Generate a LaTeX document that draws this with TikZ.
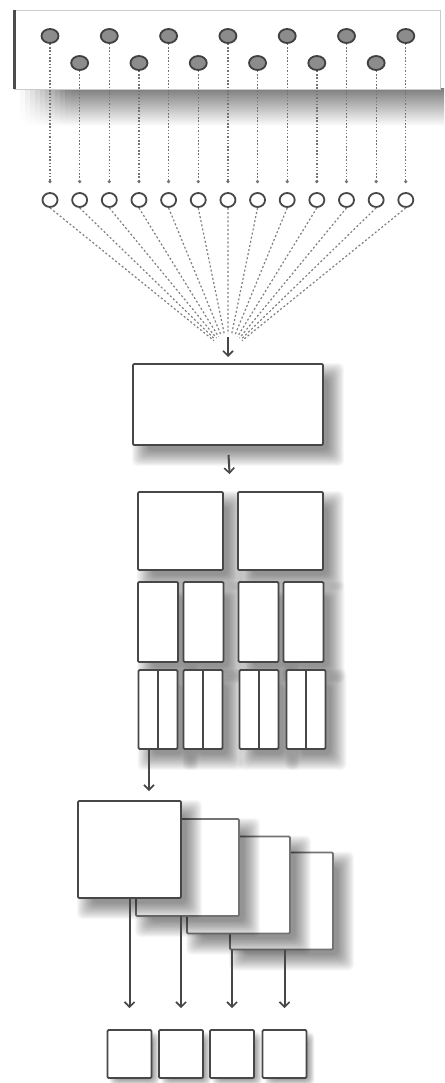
\documentclass[tikz,border=0pt]{standalone}
\usetikzlibrary{shapes.geometric,arrows.meta,calc}
% soft shadow: cx, cy, w, h, offset, spread
\newcommand\softsh[6]{%
  \foreach \shK in {0,...,15}{%
    \pgfmathsetmacro\shE{-5+#6*\shK/15}%
    \fill[black,opacity=0.032,rounded corners=5pt]
      ({#1-#3/2-\shE+#5},{#2-#4/2-\shE+#5}) rectangle ({#1+#3/2+\shE+#5},{#2+#4/2+\shE+#5});
  }%
}
\newcommand\shbox[6]{%
  \softsh{#2}{#3}{#4}{#5}{10}{16}%
  \node[box,#6,minimum width=#4 pt,minimum height=#5 pt] (#1) at (#2,#3) {};
}
\begin{document}
\begin{tikzpicture}[x=1pt,y=-1pt,
  tdot/.style={ellipse,draw=black!75,fill=black!45,line width=1.8pt,minimum width=17pt,minimum height=14pt,inner sep=0pt},
  bdot/.style={ellipse,draw=black!72,fill=white,line width=1.8pt,minimum width=15pt,minimum height=14pt,inner sep=0pt},
  vdots/.style={draw=black!55,line width=1.3pt,dash pattern=on 1.5pt off 1.8pt,-{Circle[length=3pt]},shorten >=9pt},
  fanline/.style={draw=black!50,line width=1.2pt,dash pattern=on 2pt off 2.2pt,shorten >=18pt},
  box/.style={rectangle,draw=black!72,line width=1.8pt,fill=white,rounded corners=1.2pt,inner sep=0pt,outer sep=0pt},
  backbox/.style={draw=black!55},
  divider/.style={draw=black!72,line width=1.8pt},
  arr/.style={draw=black!72,line width=2pt,-{Straight Barb[length=5pt,width=10pt,line width=1.6pt]}},
]
\useasboundingbox (0,0) rectangle (444,1083);
\fill[white] (0,0) rectangle (444,1083);
% shadow under the top panel
\shade[top color=black!50,bottom color=white] (70,89) rectangle (444,126);
\foreach \k in {0,...,9}
  \shade[top color=black!\the\numexpr 5*\k+3\relax,bottom color=white] ({20+5*\k},89) rectangle ({25.3+5*\k},126);
% top panel
\node[draw=black!20,line width=0.8pt,fill=white,minimum width=426pt,minimum height=79pt,inner sep=0pt,outer sep=0pt] (panel) at (227,50) {};
\draw[black!70,line width=3pt] (panel.north west) -- (panel.south west);
% circles
\foreach \i in {1,...,13}{
  \pgfmathsetmacro{\xx}{50+(\i-1)*29.65}
  \pgfmathsetmacro{\yy}{isodd(\i)?36:63}
  \node[tdot] (t\i) at (\xx,\yy) {};
  \node[bdot] (b\i) at (\xx,200) {};
}
\foreach \i in {1,...,13} \draw[vdots] (t\i.south) -- (b\i.north);
\coordinate (focus) at (228,352);
\foreach \i in {1,...,13} \draw[fanline] (b\i.south) -- (focus);
% box 1
\shbox{box1}{228}{404.5}{190}{81}{}
\coordinate (a1) at (228,337);
\draw[arr,shorten >=7pt] (a1) -- (box1.north);
% grid
\coordinate (gtop) at (230.5,492);
\shbox{g1}{180.5}{531}{85}{78}{}
\shbox{g2}{280.5}{531}{85}{78}{}
\draw[arr,shorten <=10pt,shorten >=18pt] (box1.south) -- (gtop);
\foreach \i/\x in {1/158,2/203.5,3/258.5,4/303.5}{
  \shbox{r2\i}{\x}{622}{40}{80}{}
}
\foreach \i/\x in {1/158,2/203,3/259,4/306}{
  \shbox{r3\i}{\x}{709.5}{39}{79}{}
  \draw[divider] (r3\i.north) -- (r3\i.south);
}
% stacked squares
\shbox{sq4}{281.5}{901}{103}{97}{backbox}
\shbox{sq3}{238.5}{885}{103}{97}{backbox}
\shbox{sq2}{187.5}{867.5}{103}{97}{backbox}
\shbox{sq1}{129.5}{849.5}{103}{97}{}
\draw[arr,shorten >=10pt] ([xshift=-9pt]r31.south) -- ([xshift=-9pt]r31.south |- sq1.north);
% bottom squares
\foreach \i/\x in {1/129.5,2/181,3/232,4/284.5}{
  \softsh{\x}{1054}{44}{48}{5}{8}
  \node[box,minimum width=44pt,minimum height=48pt] (s\i) at (\x,1054) {};
}
\draw[arr,shorten >=22pt] (s1.north |- sq1.south) -- (s1.north);
\draw[arr,shorten >=22pt] (s2.north |- sq2.south) -- (s2.north);
\draw[arr,shorten >=22pt] (s3.north |- sq4.south) -- (s3.north);
\draw[arr,shorten >=22pt] (s4.north |- sq4.south) -- (s4.north);
\end{tikzpicture}
\end{document}
